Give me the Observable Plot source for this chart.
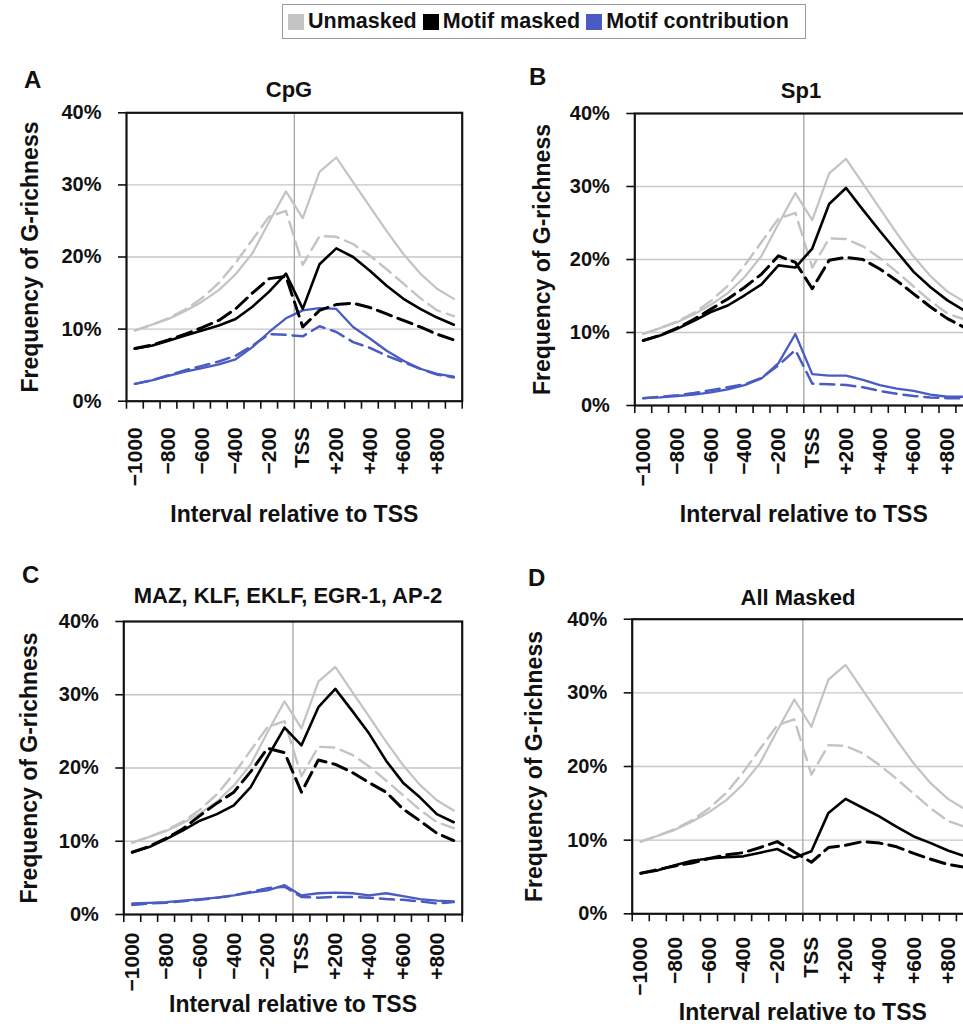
<!DOCTYPE html>
<html>
<head>
<meta charset="utf-8">
<script src="https://cdn.jsdelivr.net/npm/d3@7"></script>
<script src="https://cdn.jsdelivr.net/npm/@observablehq/plot@0.6"></script>
<style>
html, body { margin: 0; padding: 0; width: 963px; height: 1035px; overflow: hidden; background: #fff; }
#root { position: relative; width: 963px; height: 1035px; overflow: hidden; font-family: "Liberation Sans", Arial, sans-serif; color: #111; }
.abs { position: absolute; white-space: nowrap; line-height: 1; font-weight: bold; }
.letter { font-size: 24px; }
.ptitle { font-size: 22px; transform: translateX(-50%); }
#legend { position: absolute; left: 282px; top: 4px; width: 524px; height: 35px; border: 1.5px solid #9c9c9c; box-sizing: border-box; display: flex; align-items: center; padding-left: 5px; font-weight: bold; font-size: 21.5px; }
#legend .sw { width: 16px; height: 16px; margin-right: 4px; }
#legend .lab { margin-right: 6px; }
.panel { position: absolute; }
</style>
</head>
<body>
<div id="root"></div>
<script>
// ---------- data ----------
const intervals = [-1000, -900, -800, -700, -600, -500, -400, -300, -200, -100, 0, 100, 200, 300, 400, 500, 600, 700, 800, 900];
const tickLabelValues = [-1000, -800, -600, -400, -200, 0, 200, 400, 600, 800];
const tickLabels = ["−1000", "−800", "−600", "−400", "−200", "TSS", "+200", "+400", "+600", "+800"];
const yTicks = [0, 10, 20, 30, 40];
const legendLabels = ["Unmasked", "Motif masked", "Motif contribution"];
const panelLetters = ["A", "B", "C", "D"];
const panelTitles = ["CpG", "Sp1", "MAZ, KLF, EKLF, EGR-1, AP-2", "All Masked"];
const yTitle = "Frequency of G-richness";
const xTitle = "Interval relative to TSS";

// Unmasked (same in every panel), percent
const unmaskedSolid  = [9.8, 10.6, 11.4, 12.5, 13.8, 15.4, 17.6, 20.5, 24.9, 29.1, 25.4, 31.8, 33.8, 30.4, 27.0, 23.6, 20.4, 17.7, 15.6, 14.2];
const unmaskedDashed = [9.8, 10.6, 11.5, 12.7, 14.3, 16.4, 19.2, 22.4, 25.6, 26.4, 18.9, 22.9, 22.8, 21.8, 20.2, 18.3, 16.3, 14.3, 12.6, 11.8];

// A: CpG
const cpgMaskedSolid   = [7.3, 7.7, 8.4, 9.1, 9.8, 10.5, 11.4, 13.1, 15.2, 17.7, 12.8, 19.0, 21.2, 20.0, 18.1, 16.0, 14.2, 12.8, 11.6, 10.6];
const cpgMaskedDashed  = [7.3, 7.8, 8.5, 9.3, 10.2, 11.2, 12.8, 15.0, 17.0, 17.3, 10.3, 12.6, 13.4, 13.6, 13.0, 12.1, 11.2, 10.3, 9.3, 8.5];
const cpgContribSolid  = [2.4, 2.9, 3.5, 4.1, 4.6, 5.1, 5.8, 7.5, 9.6, 11.5, 12.6, 12.9, 12.8, 10.3, 8.7, 7.0, 5.6, 4.5, 3.8, 3.4];
const cpgContribDashed = [2.4, 2.9, 3.6, 4.3, 4.9, 5.5, 6.3, 7.7, 9.3, 9.2, 9.0, 10.4, 9.6, 8.2, 7.4, 6.3, 5.4, 4.5, 3.7, 3.3];

// B: Sp1
const sp1MaskedSolid   = [8.9, 9.6, 10.5, 11.6, 12.8, 13.7, 15.1, 16.6, 19.2, 18.9, 21.5, 27.6, 29.8, 26.8, 23.9, 21.1, 18.3, 16.2, 14.4, 13.0];
const sp1MaskedDashed  = [8.9, 9.6, 10.6, 11.8, 13.2, 14.6, 16.2, 18.0, 20.5, 19.6, 16.0, 19.9, 20.3, 20.0, 18.7, 17.1, 15.3, 13.5, 11.9, 10.7];
const sp1ContribSolid  = [1.0, 1.1, 1.3, 1.5, 1.8, 2.2, 2.8, 3.7, 5.8, 9.8, 4.3, 4.1, 4.1, 3.5, 2.8, 2.3, 2.0, 1.5, 1.2, 1.2];
const sp1ContribDashed = [1.0, 1.2, 1.4, 1.7, 2.1, 2.5, 2.9, 3.8, 5.5, 7.6, 3.0, 2.9, 2.8, 2.5, 2.0, 1.6, 1.3, 1.1, 1.0, 1.0];

// C: MAZ, KLF, EKLF, EGR-1, AP-2
const mazMaskedSolid   = [8.5, 9.2, 10.3, 11.5, 12.8, 13.7, 14.9, 17.4, 21.5, 25.5, 23.1, 28.3, 30.8, 27.8, 24.7, 21.0, 18.0, 16.0, 13.7, 12.6];
const mazMaskedDashed  = [8.5, 9.3, 10.4, 11.7, 13.5, 15.2, 16.7, 19.5, 22.7, 22.1, 16.7, 21.1, 20.5, 19.4, 18.0, 16.7, 14.4, 12.8, 11.1, 10.1];
const mazContribSolid  = [1.5, 1.6, 1.7, 1.9, 2.1, 2.3, 2.6, 3.0, 3.3, 4.0, 2.6, 2.9, 3.0, 2.9, 2.6, 2.9, 2.5, 2.1, 1.9, 1.8];
const mazContribDashed = [1.3, 1.5, 1.6, 1.8, 2.0, 2.3, 2.6, 3.1, 3.6, 3.8, 2.4, 2.3, 2.4, 2.4, 2.3, 2.1, 2.0, 1.8, 1.5, 1.7];

// D: All masked
const allMaskedSolid  = [5.5, 5.9, 6.6, 7.2, 7.5, 7.7, 7.8, 8.3, 8.8, 7.6, 8.5, 13.7, 15.6, 14.4, 13.2, 11.8, 10.5, 9.6, 8.6, 7.8];
const allMaskedDashed = [5.5, 6.0, 6.5, 6.9, 7.5, 8.0, 8.3, 9.0, 9.8, 8.4, 7.0, 9.0, 9.3, 9.8, 9.6, 9.1, 8.2, 7.4, 6.7, 6.3];

// ---------- styling / layout ----------
const COLORS = {unmasked: "#c3c3c3", masked: "#000000", contrib: "#4a5bc4"};
const FONT = "'Liberation Sans', Arial, Helvetica, sans-serif";

const layout = [
  {left: 0,   top: 60,  width: 480, height: 470, mL: 126,   mT: 52.3, mR: 18.3, mB: 129.3, yT: -96,  tickPad: 26, xTdy: 113,
   letter: {x: 24, top: 67.7}, title: {cx: 289, top: 79.4}},
  {left: 480, top: 60,  width: 510, height: 470, mL: 154.3, mT: 53,   mR: 17.7, mB: 125,   yT: -92,  tickPad: 22, xTdy: 109,
   letter: {x: 529, top: 64.7}, title: {cx: 801, top: 80.4}},
  {left: 0,   top: 560, width: 480, height: 475, mL: 123.3, mT: 61,   mR: 18.3, mB: 121,   yT: -94,  tickPad: 18, xTdy: 90,
   letter: {x: 22, top: 562.7}, title: {cx: 288, top: 585.4}},
  {left: 480, top: 560, width: 511, height: 475, mL: 151.7, mT: 58.7, mR: 18,   mB: 121.7, yT: -98,  tickPad: 23, xTdy: 99,
   letter: {x: 528, top: 565.7}, title: {cx: 798, top: 587.4}}
];

const panelSeries = [
  [cpgMaskedSolid, cpgMaskedDashed, cpgContribSolid, cpgContribDashed],
  [sp1MaskedSolid, sp1MaskedDashed, sp1ContribSolid, sp1ContribDashed],
  [mazMaskedSolid, mazMaskedDashed, mazContribSolid, mazContribDashed],
  [allMaskedSolid, allMaskedDashed, null, null]
];

const rows = vals => intervals.map((x, i) => ({x, y: vals[i]}));
const step = intervals[1] - intervals[0];
const boundaries = intervals.map(v => v - step / 2).concat([intervals[intervals.length - 1] + step / 2]);
const fmt = d => tickLabels[tickLabelValues.indexOf(d)];

function makePanel(idx) {
  const L = layout[idx];
  const [mS, mD, cS, cD] = panelSeries[idx];
  const marks = [
    Plot.ruleY([10, 20, 30], {stroke: "#cbc4c4", strokeWidth: 1.3}),
    Plot.ruleX([(intervals[9] + intervals[10]) / 2], {stroke: "#a9a9a9", strokeWidth: 1.4}),
    Plot.line(rows(unmaskedDashed), {x: "x", y: "y", stroke: COLORS.unmasked, strokeWidth: 2.4, strokeDasharray: "14,7"}),
    Plot.line(rows(unmaskedSolid), {x: "x", y: "y", stroke: COLORS.unmasked, strokeWidth: 2.2})
  ];
  if (cS) {
    marks.push(Plot.line(rows(cD), {x: "x", y: "y", stroke: COLORS.contrib, strokeWidth: 2.5, strokeDasharray: "14,7"}));
    marks.push(Plot.line(rows(cS), {x: "x", y: "y", stroke: COLORS.contrib, strokeWidth: 2.3}));
  }
  marks.push(Plot.line(rows(mD), {x: "x", y: "y", stroke: COLORS.masked, strokeWidth: 3, strokeDasharray: "15,7"}));
  marks.push(Plot.line(rows(mS), {x: "x", y: "y", stroke: COLORS.masked, strokeWidth: 2.6}));
  marks.push(
    Plot.frame({stroke: "#111", strokeWidth: 2.2}),
    Plot.axisY({ticks: yTicks, tickFormat: d => `${d}%`, tickSize: 8, tickPadding: 17, fontSize: 20, fontWeight: "bold", strokeWidth: 1.6, label: null}),
    Plot.axisX({ticks: boundaries, tickFormat: () => "", tickSize: 8, strokeWidth: 1.6, label: null}),
    Plot.axisX({ticks: tickLabelValues, tickFormat: fmt, tickSize: 0, tickPadding: L.tickPad, tickRotate: -90, fontSize: 21, fontWeight: "bold", label: null}),
    Plot.text([xTitle], {text: d => d, frameAnchor: "bottom", lineAnchor: "middle", textAnchor: "middle", dy: L.xTdy, fontSize: 23, fontWeight: "bold"}),
    Plot.text([yTitle], {text: d => d, frameAnchor: "left", rotate: -90, textAnchor: "middle", lineAnchor: "middle", dx: L.yT, fontSize: 23, fontWeight: "bold"})
  );
  return Plot.plot({
    width: L.width, height: L.height,
    marginLeft: L.mL, marginRight: L.mR, marginTop: L.mT, marginBottom: L.mB,
    x: {type: "linear", domain: [boundaries[0], boundaries[boundaries.length - 1]], axis: null},
    y: {type: "linear", domain: [0, 40], axis: null},
    style: {fontFamily: FONT, color: "#111", background: "transparent", maxWidth: "none", overflow: "visible"},
    marks
  });
}

const root = document.getElementById("root");

// legend
const legend = document.createElement("div");
legend.id = "legend";
const legendColors = [COLORS.unmasked, COLORS.masked, COLORS.contrib];
legendLabels.forEach((lab, i) => {
  const sw = document.createElement("div");
  sw.className = "sw";
  sw.style.background = legendColors[i];
  const t = document.createElement("span");
  t.className = "lab";
  t.textContent = lab;
  legend.appendChild(sw);
  legend.appendChild(t);
});
root.appendChild(legend);

layout.forEach((L, i) => {
  const wrap = document.createElement("div");
  wrap.className = "panel";
  wrap.style.left = L.left + "px";
  wrap.style.top = L.top + "px";
  wrap.style.width = L.width + "px";
  wrap.style.height = L.height + "px";
  wrap.appendChild(makePanel(i));
  root.appendChild(wrap);

  const letter = document.createElement("div");
  letter.className = "abs letter";
  letter.style.left = L.letter.x + "px";
  letter.style.top = L.letter.top + "px";
  letter.textContent = panelLetters[i];
  root.appendChild(letter);

  const title = document.createElement("div");
  title.className = "abs ptitle";
  title.style.left = L.title.cx + "px";
  title.style.top = L.title.top + "px";
  title.textContent = panelTitles[i];
  root.appendChild(title);
});
</script>
</body>
</html>
